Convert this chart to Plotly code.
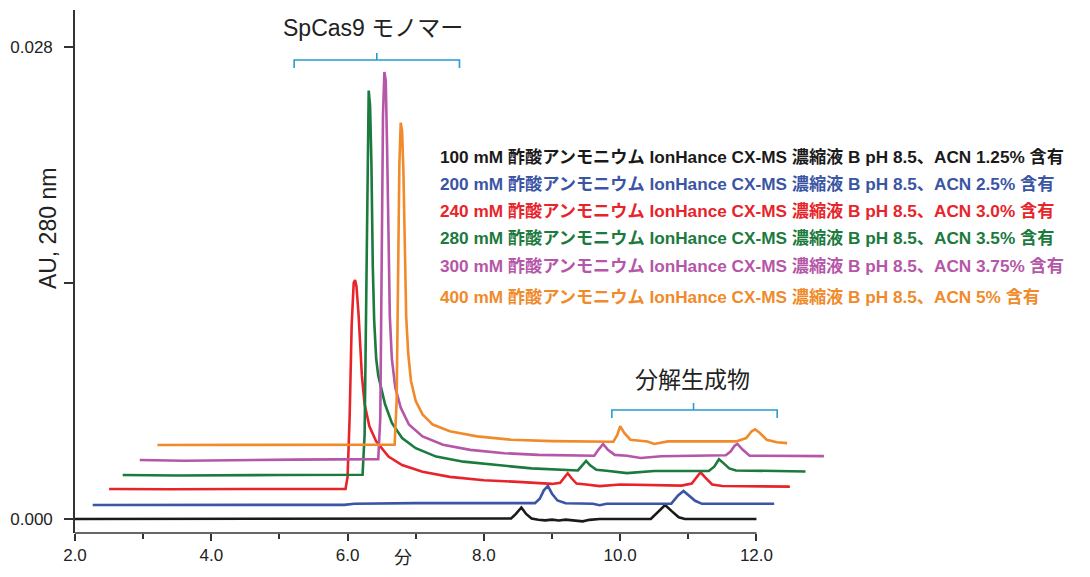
import plotly.graph_objects as go

# ---------------- data (retention time in min, absorbance in AU) ----------------
black_t = [2.00, 4.00, 6.00, 8.30, 8.40, 8.47, 8.55, 8.62, 8.70, 8.80, 8.90, 9.00, 9.10, 9.20,
           9.35, 9.45, 9.55, 9.70, 10.45, 10.55, 10.66, 10.76, 10.86, 10.95, 12.00]
black_au = [0.0, 0.0, 0.0, 0.0, 0.00003, 0.00030, 0.00068, 0.00030, 0.00003, -0.00004, -0.00008,
            -0.00004, -0.00009, -0.00004, -0.00012, -0.00014, -0.00005, 0.0, 0.0, 0.00040,
            0.00083, 0.00045, 0.00010, 0.0, 0.0]

blue_t = [2.26, 4.00, 5.95, 6.10, 7.00, 8.75, 8.82, 8.88, 8.94, 9.00, 9.08, 9.20, 9.60, 9.70,
          9.80, 10.75, 10.85, 10.93, 11.00, 11.10, 11.20, 12.26]
blue_au = [0.00083, 0.00083, 0.00084, 0.00090, 0.00094, 0.00094, 0.00120, 0.00170, 0.00196,
           0.00150, 0.00110, 0.00093, 0.00090, 0.00082, 0.00090, 0.00091, 0.00140, 0.00166,
           0.00142, 0.00108, 0.00090, 0.00090]

red_t = [2.50, 3.40, 4.50, 5.97, 6.00, 6.03, 6.06, 6.09, 6.11, 6.13, 6.16, 6.18, 6.21, 6.25,
         6.32, 6.42, 6.60, 6.80, 7.10, 7.50, 8.00, 8.50, 9.00, 9.12, 9.18, 9.23, 9.29, 9.36,
         9.50, 9.70, 10.00, 10.90, 11.05, 11.12, 11.18, 11.25, 11.35, 11.50, 12.49]
red_au = [0.00178, 0.00176, 0.00178, 0.00178, 0.00250, 0.00600, 0.01150, 0.01400, 0.01417,
          0.01380, 0.01220, 0.01050, 0.00850, 0.00680, 0.00550, 0.00460, 0.00370, 0.00320,
          0.00280, 0.00250, 0.00230, 0.00220, 0.00208, 0.00215, 0.00245, 0.00271, 0.00240,
          0.00210, 0.00205, 0.00195, 0.00205, 0.00198, 0.00210, 0.00250, 0.00277, 0.00245,
          0.00205, 0.00196, 0.00192]

green_t = [2.70, 3.50, 5.00, 6.22, 6.25, 6.27, 6.29, 6.31, 6.33, 6.35, 6.37, 6.39, 6.42, 6.45,
           6.55, 6.65, 6.80, 7.00, 7.30, 7.70, 8.20, 8.70, 9.38, 9.44, 9.50, 9.56, 9.65, 9.80,
           10.10, 10.50, 11.30, 11.38, 11.45, 11.52, 11.60, 11.70, 12.72]
green_au = [0.00261, 0.00258, 0.00261, 0.00262, 0.00500, 0.01200, 0.02200, 0.02540, 0.02450,
            0.02100, 0.01500, 0.01180, 0.00950, 0.00850, 0.00680, 0.00570, 0.00480, 0.00420,
            0.00370, 0.00340, 0.00320, 0.00300, 0.00288, 0.00315, 0.00344, 0.00318, 0.00292,
            0.00286, 0.00272, 0.00285, 0.00285, 0.00310, 0.00354, 0.00330, 0.00300, 0.00288,
            0.00282]

purple_t = [2.95, 3.60, 5.20, 6.45, 6.48, 6.50, 6.52, 6.54, 6.56, 6.58, 6.60, 6.62, 6.65, 6.70,
            6.78, 6.90, 7.10, 7.40, 7.80, 8.30, 8.80, 9.30, 9.62, 9.68, 9.75, 9.82, 9.92,
            10.10, 10.30, 10.60, 11.55, 11.62, 11.68, 11.72, 11.80, 11.90, 12.99]
purple_au = [0.00350, 0.00345, 0.00352, 0.00355, 0.00600, 0.01400, 0.02400, 0.02650, 0.02600,
             0.02200, 0.01600, 0.01200, 0.00950, 0.00780, 0.00660, 0.00560, 0.00490, 0.00440,
             0.00410, 0.00390, 0.00380, 0.00377, 0.00375, 0.00410, 0.00445, 0.00410, 0.00380,
             0.00375, 0.00362, 0.00372, 0.00378, 0.00400, 0.00435, 0.00445, 0.00410, 0.00375,
             0.00373]

orange_t = [3.21, 4.50, 6.69, 6.72, 6.74, 6.76, 6.78, 6.80, 6.82, 6.84, 6.86, 6.89, 6.93, 7.00,
            7.10, 7.25, 7.50, 7.90, 8.40, 9.00, 9.50, 9.90, 9.96, 10.00, 10.06, 10.15, 10.40,
            10.50, 10.70, 11.70, 11.85, 11.93, 11.98, 12.05, 12.15, 12.30, 12.45]
orange_au = [0.00439, 0.00439, 0.00440, 0.00700, 0.01400, 0.02100, 0.02350, 0.02300, 0.02050,
             0.01600, 0.01200, 0.00980, 0.00820, 0.00700, 0.00620, 0.00560, 0.00520, 0.00490,
             0.00470, 0.00462, 0.00458, 0.00458, 0.00500, 0.00551, 0.00510, 0.00470, 0.00460,
             0.00445, 0.00460, 0.00460, 0.00480, 0.00520, 0.00532, 0.00510, 0.00470, 0.00455,
             0.00450]

legend_labels = [
    "100 mM 酢酸アンモニウム IonHance CX-MS 濃縮液 B pH 8.5、ACN 1.25% 含有",
    "200 mM 酢酸アンモニウム IonHance CX-MS 濃縮液 B pH 8.5、ACN 2.5% 含有",
    "240 mM 酢酸アンモニウム IonHance CX-MS 濃縮液 B pH 8.5、ACN 3.0% 含有",
    "280 mM 酢酸アンモニウム IonHance CX-MS 濃縮液 B pH 8.5、ACN 3.5% 含有",
    "300 mM 酢酸アンモニウム IonHance CX-MS 濃縮液 B pH 8.5、ACN 3.75% 含有",
    "400 mM 酢酸アンモニウム IonHance CX-MS 濃縮液 B pH 8.5、ACN 5% 含有",
]
colors = ["#1a1a1a", "#3a55a4", "#e8242b", "#1b7a3d", "#b556a8", "#f08a2a"]

x_tick_vals = [2, 4, 6, 8, 10, 12]
x_tick_text = ["2.0", "4.0", "6.0", "8.0", "10.0", "12.0"]
x_minor_vals = [3, 5, 7, 9, 11]
y_tick_vals = [0.0, 0.014, 0.028]
y_tick_text = ["0.000", "", "0.028"]

monomer_label = "SpCas9 モノマー"
degradation_label = "分解生成物"
x_title = "分"
y_title = "AU, 280 nm"

# ---------------- layout geometry ----------------
# page body has an 8px margin, so the figure is offset by 8px in the screenshot
OFF = 8
W, H = 1074, 561
L, T = 72 - OFF, 10 - OFF
PLOT_RIGHT, PLOT_BOTTOM = 828 - OFF, 533 - OFF
R, B = W - PLOT_RIGHT, H - PLOT_BOTTOM
PW, PH = W - L - R, H - T - B

def px(x, y):
    """screenshot pixel position -> paper coords"""
    fx, fy = x - OFF, y - OFF
    return (fx - L) / PW, (H - B - fy) / PH

FONT = "Liberation Sans, Arial, Noto Sans CJK JP, sans-serif"
AXC = "#333333"
BRACKET = "#2a9ad3"

series = [
    (black_t, black_au), (blue_t, blue_au), (red_t, red_au),
    (green_t, green_au), (purple_t, purple_au), (orange_t, orange_au),
]

fig = go.Figure()
for (t, au), c, name in zip(series, colors, legend_labels):
    fig.add_trace(go.Scatter(x=t, y=au, mode="lines", name=name,
                             line=dict(color=c, width=2.6), showlegend=False))

def bracket(x0, x1, y, drop, xc, rise):
    a = px(x0, y + drop); b = px(x0, y); c_ = px(x1, y); d = px(x1, y + drop)
    m0 = px(xc, y); m1 = px(xc, y - rise)
    return (f"M {a[0]},{a[1]} L {b[0]},{b[1]} L {c_[0]},{c_[1]} L {d[0]},{d[1]} "
            f"M {m0[0]},{m0[1]} L {m1[0]},{m1[1]}")

shapes = [
    dict(type="line", xref="x", yref="paper", x0=2, x1=12, y0=0, y1=0,
         line=dict(color=AXC, width=1.6)),
    dict(type="path", xref="paper", yref="paper", path=bracket(292, 458, 60, 8, 375, 7),
         line=dict(color=BRACKET, width=1.6)),
    dict(type="path", xref="paper", yref="paper", path=bracket(611, 777, 410, 8, 693, 7),
         line=dict(color=BRACKET, width=1.6)),
]

annotations = []
def add_text(text, x, y, size, color="#222222", xanchor="center", angle=0):
    p = px(x, y)
    annotations.append(dict(text=text, x=p[0], y=p[1], xref="paper", yref="paper",
                            xanchor=xanchor, yanchor="middle", showarrow=False,
                            textangle=angle, font=dict(family=FONT, size=size, color=color)))

add_text(monomer_label, 371, 28, 23)
add_text(degradation_label, 692, 380, 23)
add_text(x_title, 401, 558, 18)
add_text(y_title, 45, 229, 23, angle=-90)

legend_y = [157, 184, 211, 238, 266, 297]
for lab, c, yy in zip(legend_labels, colors, legend_y):
    add_text(f"<b>{lab}</b>", 436, yy, 17.2, color=c, xanchor="left")

fig.update_layout(
    width=W, height=H, autosize=False,
    margin=dict(l=L, r=R, t=T, b=B, pad=0),
    paper_bgcolor="white", plot_bgcolor="white",
    font=dict(family=FONT, size=16, color="#222222"),
    xaxis=dict(range=[2, 13.05], showline=False, showgrid=False, zeroline=False,
               tickmode="array", tickvals=x_tick_vals, ticktext=x_tick_text,
               ticks="outside", ticklen=7, tickwidth=1.6, tickcolor=AXC,
               tickfont=dict(size=17, color="#222222"),
               minor=dict(tickmode="array", tickvals=x_minor_vals, ticks="outside",
                          ticklen=5, tickwidth=1.6, tickcolor=AXC, showgrid=False)),
    yaxis=dict(range=[-0.00083, 0.03018], showline=True, linecolor=AXC, linewidth=1.6,
               showgrid=False, zeroline=False,
               tickmode="array", tickvals=y_tick_vals, ticktext=y_tick_text,
               ticks="outside", ticklen=9, tickwidth=1.6, tickcolor=AXC,
               ticklabelstandoff=8,
               tickfont=dict(size=17, color="#222222")),
    shapes=shapes,
    annotations=annotations,
)

fig.write_html("out.html")
